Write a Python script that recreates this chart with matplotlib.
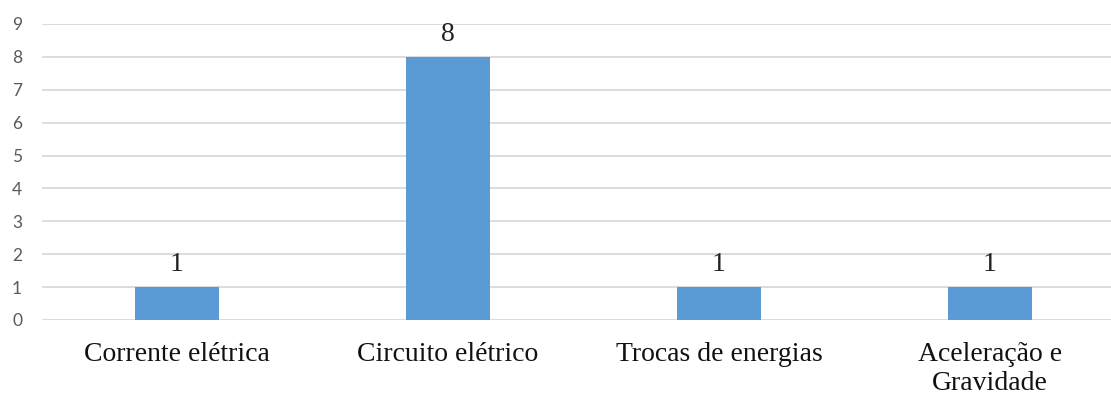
import matplotlib.pyplot as plt

categories = ["Corrente elétrica", "Circuito elétrico", "Trocas de energias", "Aceleração e\nGravidade"]
values = [1, 8, 1, 1]
yticks = list(range(0, 10))

fig = plt.figure(figsize=(11.11, 3.96), dpi=100)
# the original chart is cut off at the right edge, so the axes run to the border
ax = fig.add_axes([41.5 / 1111, 76 / 396, 1 - 41.5 / 1111, 296 / 396])

x = list(range(len(categories)))
bars = ax.bar(x, values, width=0.31, color="#5B9BD5", zorder=3)

for b, v in zip(bars, values):
    ax.annotate(str(v), (b.get_x() + b.get_width() / 2, b.get_height()),
                xytext=(0, 7), textcoords="offset points", ha="center", va="bottom",
                fontsize=20, family="Liberation Serif", color="#222222")

ax.set_ylim(0, 9)
ax.set_xlim(-0.5, 3.5 - 14.5 / 271)
ax.set_yticks(yticks)
ax.set_yticklabels([str(t) for t in yticks], fontsize=12.5, family="Lato", color="#595959")
ax.set_xticks(x)
ax.set_xticklabels(categories, fontsize=20, family="Liberation Serif", color="#111111",
                   linespacing=1.2, va="top")
ax.tick_params(axis="both", length=0)
ax.tick_params(axis="y", pad=14)
ax.tick_params(axis="x", pad=16)
ax.yaxis.grid(True, color="#D9D9D9", linewidth=1.3, zorder=0)
for s in ax.spines.values():
    s.set_visible(False)

fig.savefig("out.png", dpi=100)
